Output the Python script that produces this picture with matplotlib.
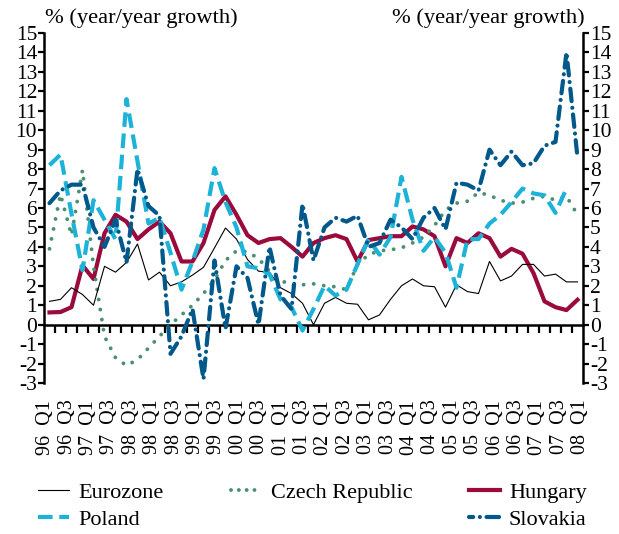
import numpy as np
import matplotlib
matplotlib.use('Agg')
import matplotlib.pyplot as plt
from matplotlib.lines import Line2D

plt.rcParams['font.family'] = ['Liberation Serif', 'DejaVu Serif']
plt.rcParams['axes.unicode_minus'] = False

# quarterly, 96 Q1 .. 08 Q1
quarters = np.arange(49)

x_labels = ['96  Q1', '96  Q3', '97  Q1', '97  Q3', '98  Q3', '98  Q1', '98  Q3',
            '99  Q1', '99  Q3', '00  Q1', '00  Q3', '01  Q1', '01  Q3', '02  Q1',
            '02  Q3', '03  Q1', '03  Q3', '04  Q1', '04  Q3', '05  Q1', '05  Q3',
            '06  Q1', '06  Q3', '07  Q1', '07  Q3', '08  Q1']

eurozone = [1.2, 1.3, 1.9, 1.55, 1.0, 3.0, 2.7, 3.2, 4.15, 2.3, 2.7, 2.0, 2.2,
            2.55, 2.95, 3.95, 4.97, 4.4, 3.35, 2.75, 2.7, 1.9, 1.6, 1.1, 0.0,
            1.1, 1.4, 1.1, 1.05, 0.25, 0.5, 1.3, 2.0, 2.35, 2.0, 1.95, 0.9,
            2.05, 1.7, 1.6, 3.25, 2.25, 2.5, 3.1, 3.1, 2.5, 2.6, 2.2, 2.2]

czech = [3.9, 6.7, 4.6, 7.95, 3.0, -0.6, -1.7, -2.1, -1.8, -1.2, -0.6, 0.0, 0.5,
         1.0, 1.6, 2.3, 3.3, 3.8, 3.75, 3.4, 2.75, 2.3, 2.0, 2.05, 2.1, 2.0,
         1.95, 1.8, 3.1, 3.6, 3.8, 3.85, 3.95, 4.2, 4.5, 5.1, 5.9, 6.25, 6.35,
         6.8, 6.65, 6.4, 6.25, 6.3, 6.5, 6.6, 6.4, 6.6, 5.65]

hungary = [0.63, 0.65, 0.9, 3.05, 2.35, 4.7, 5.65, 5.3, 4.4, 4.9, 5.3, 4.7, 3.25,
           3.25, 4.2, 5.9, 6.6, 5.65, 4.6, 4.2, 4.4, 4.45, 4.0, 3.5, 4.2, 4.45,
           4.6, 4.4, 3.25, 4.35, 4.45, 4.55, 4.55, 5.05, 4.9, 4.55, 3.0, 4.45,
           4.2, 4.7, 4.45, 3.5, 3.9, 3.65, 2.65, 1.2, 0.9, 0.75, 1.28]

poland = [8.2, 8.75, 5.7, 2.8, 6.4, 5.4, 4.4, 11.6, 8.4, 5.2, 5.5, 3.7, 1.8,
          3.25, 4.9, 8.05, 6.3, 5.0, 3.0, 2.9, 2.6, 1.3, 0.9, -0.3, 0.8, 2.0,
          1.5, 1.8, 3.1, 4.4, 3.6, 4.5, 7.6, 5.4, 3.8, 4.5, 3.7, 1.9, 4.4, 4.4,
          5.2, 5.65, 6.3, 7.0, 6.75, 6.65, 5.75, 7.0, np.nan]

slovakia = [6.25, 6.9, 7.2, 7.2, 5.0, 4.0, 5.4, 3.2, 8.0, 6.1, 5.6, -1.5, -0.6,
            0.8, -2.8, 3.3, -0.2, 3.0, 2.4, 0.0, 4.0, 1.5, 0.8, 6.2, 3.3, 5.0,
            5.5, 5.3, 5.6, 4.0, 4.2, 5.4, 5.0, 4.4, 5.5, 6.0, 4.9, 7.3, 7.2,
            6.9, 9.0, 8.2, 8.9, 8.2, 8.3, 9.2, 9.4, 14.0, 8.6]

c_euro = 'black'
c_czech = '#4a8f70'
c_hun = '#9b0a3c'
c_pol = '#1db3d9'
c_slo = '#00598a'

czech_ls = (0, (0.01, 2.6))
pol_ls = (0, (3.5, 1.6))
slo_ls = (0, (3.0, 1.6, 0.01, 1.6))

fig = plt.figure(figsize=(6.19, 5.34), dpi=100)
ax = fig.add_axes([44/619, 1-383/534, (583-44)/619, (383-33)/534])

ax.plot(quarters, hungary, color=c_hun, lw=3.0, zorder=3)
ax.plot(quarters, czech, color=c_czech, lw=2.8, linestyle=czech_ls,
        dash_capstyle='round', zorder=3)
ax.plot(quarters, eurozone, color=c_euro, lw=0.8, zorder=4)
ax.plot(quarters, poland, color=c_pol, lw=3.0, linestyle=pol_ls, zorder=5)
ax.plot(quarters, slovakia, color=c_slo, lw=3.0, linestyle=slo_ls,
        dash_capstyle='round', zorder=6)

ax.set_xlim(-0.5, 48.5)
ax.set_ylim(-3, 15)

ax.spines['top'].set_visible(False)
ax.spines['bottom'].set_position(('data', 0))
for s in ['left', 'right', 'bottom']:
    ax.spines[s].set_linewidth(1.8)

ax.set_yticks(range(-3, 16))
ax.tick_params(axis='y', left=True, right=True, labelleft=True, labelright=True,
               direction='out', length=4, width=1.6, labelsize=15.5, pad=1)

ax.set_xticks(np.linspace(-0.35, 48.3, 26))
ax.set_xticklabels(x_labels, rotation=90)
ax.tick_params(axis='x', which='major', length=0, pad=54, labelsize=14.5)
ax.set_xticks(np.arange(0.5, 48, 1), minor=True)
ax.tick_params(axis='x', which='minor', direction='out', length=5.5, width=1.6)

fig.text(45/619, 1-18/534, '% (year/year growth)', ha='left', va='center', fontsize=16.2)
fig.text(585/619, 1-18/534, '% (year/year growth)', ha='right', va='center', fontsize=16.2)

h_euro = Line2D([], [], color=c_euro, lw=0.8)
h_czech = Line2D([], [], color=c_czech, lw=2.8, linestyle=(0, (0.01, 2.0)), dash_capstyle='round')
h_hun = Line2D([], [], color=c_hun, lw=3.0)
h_pol = Line2D([], [], color=c_pol, lw=3.0, linestyle=pol_ls)
h_slo = Line2D([], [], color=c_slo, lw=3.0, linestyle=(2.0, slo_ls[1]), dash_capstyle='round')

leg_kw = dict(loc='upper left', frameon=False, fontsize=16, borderpad=0, borderaxespad=0,
              handlelength=1.4, handletextpad=0.4, labelspacing=0.3)
top = 1 - 482/534
fig.legend([h_euro, h_pol], ['Eurozone', 'Poland'], bbox_to_anchor=(38/619, top), **leg_kw)
fig.legend([h_czech], ['Czech Republic'], bbox_to_anchor=(231/619, top), **leg_kw)
fig.legend([h_hun, h_slo], ['Hungary', 'Slovakia'], bbox_to_anchor=(469/619, top), **leg_kw)

fig.savefig('out.png', dpi=100)
